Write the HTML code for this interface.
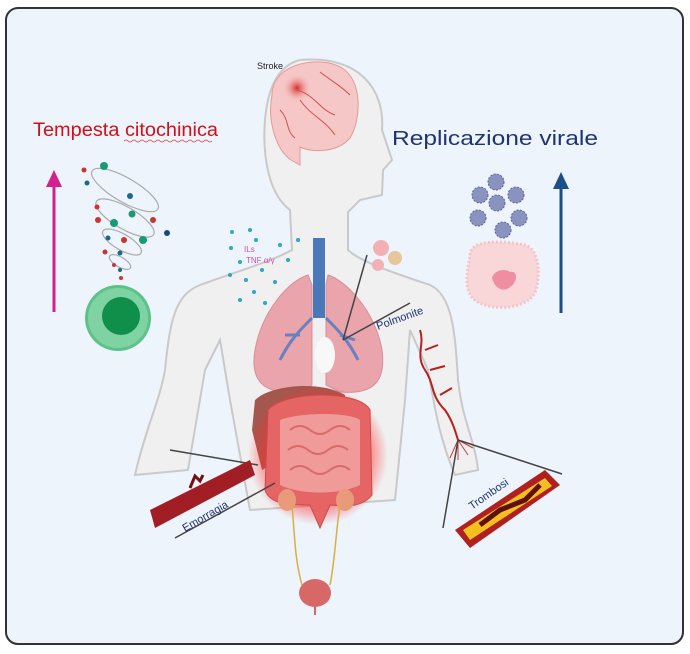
<!DOCTYPE html>
<html><head><meta charset="utf-8"><style>
html,body{margin:0;padding:0;background:#fff;}
svg{display:block;font-family:"Liberation Sans",sans-serif;}
</style></head><body>
<svg width="690" height="654" viewBox="0 0 690 654" xmlns="http://www.w3.org/2000/svg">
<defs>
<radialGradient id="glow" cx="50%" cy="50%" r="50%"><stop offset="0.7" stop-color="#ff3030" stop-opacity="0.6"/><stop offset="1" stop-color="#ff3030" stop-opacity="0"/></radialGradient>
<radialGradient id="stroke" cx="50%" cy="50%" r="50%"><stop offset="0" stop-color="#d92b2b"/><stop offset="1" stop-color="#f4b5b5" stop-opacity="0"/></radialGradient>
</defs>
<rect x="6" y="8" width="677" height="636" rx="12" fill="#edf4fb" stroke="#333" stroke-width="2"/>
<!-- body -->
<path d="M300,60 C360,55 385,90 382,130 L392,160 L383,170 L382,195 L360,200 L348,212 L348,250 C360,262 400,275 430,285 C452,295 455,330 458,380 C462,420 475,440 478,470 L455,475 C440,440 435,410 428,370 L410,330 L405,400 L395,500 L250,510 L230,400 L220,340 L205,370 C200,400 195,430 188,470 L135,475 C145,430 160,400 165,370 C170,320 175,295 200,285 C235,272 270,262 292,250 L290,210 C270,195 262,160 265,120 C268,85 280,65 300,60Z" fill="#f0f0f0" stroke="#c9c9c9" stroke-width="2"/>
<!-- brain -->
<path d="M272,95 C272,62 322,55 342,68 C362,80 362,118 350,138 C336,154 310,152 300,147 L300,165 L291,160 C276,150 267,120 272,95Z" fill="#f6c7c7" stroke="#e39a9a"/>
<circle cx="297" cy="88" r="14" fill="url(#stroke)"/>
<path d="M297,90 C315,95 320,110 335,115 M300,100 C310,115 325,120 335,135 M280,110 C290,120 285,130 295,138 M320,72 C330,80 340,85 350,95" stroke="#d05050" fill="none"/>
<text x="257" y="69" font-size="9" fill="#222">Stroke</text>
<!-- titles -->
<text x="33" y="136" font-size="19" fill="#d0101a" textLength="185" lengthAdjust="spacingAndGlyphs">Tempesta citochinica</text>
<path d="M124,141 q2,-2 4,0 t4,0 t4,0 t4,0 t4,0 t4,0 t4,0 t4,0 t4,0 t4,0 t4,0 t4,0 t4,0 t4,0 t4,0 t4,0 t4,0 t4,0 t4,0 t4,0 t4,0 t4,0" stroke="#e04040" stroke-width="0.8" fill="none"/>
<text x="392" y="145" font-size="20" fill="#1f3470" textLength="206" lengthAdjust="spacingAndGlyphs">Replicazione virale</text>
<!-- arrows -->
<line x1="54" y1="312" x2="54" y2="185" stroke="#d4208e" stroke-width="3"/>
<polygon points="46,187 62,187 54,170" fill="#d4208e"/>
<line x1="561" y1="313" x2="561" y2="187" stroke="#1c4e8a" stroke-width="3"/>
<polygon points="553,189 569,189 561,172" fill="#1c4e8a"/>
<!-- cytokine spiral -->
<g fill="none" stroke="#aaa" stroke-width="1.2">
<ellipse cx="125" cy="190" rx="38" ry="12" transform="rotate(30 125 190)"/>
<ellipse cx="125" cy="218" rx="33" ry="11" transform="rotate(30 125 218)"/>
<ellipse cx="122" cy="242" rx="22" ry="8" transform="rotate(30 122 242)"/>
<ellipse cx="120" cy="262" rx="12" ry="5" transform="rotate(30 120 262)"/>
</g>
<g>
<circle cx="104" cy="166" r="4" fill="#1a9a74"/><circle cx="84" cy="170" r="2.5" fill="#c33"/><circle cx="87" cy="183" r="2.5" fill="#1a6a8a"/>
<circle cx="130" cy="196" r="3" fill="#1a6a8a"/><circle cx="132" cy="214" r="3.5" fill="#1a9a74"/><circle cx="153" cy="220" r="3" fill="#c33"/>
<circle cx="97" cy="207" r="2.5" fill="#c33"/><circle cx="98" cy="220" r="3" fill="#c33"/><circle cx="114" cy="223" r="4" fill="#1a9a74"/>
<circle cx="143" cy="240" r="4" fill="#1a9a74"/><circle cx="124" cy="240" r="3" fill="#c33"/><circle cx="167" cy="233" r="3" fill="#1a4a7a"/>
<circle cx="108" cy="238" r="2.5" fill="#1a6a8a"/><circle cx="105" cy="252" r="2.5" fill="#c33"/><circle cx="120" cy="253" r="2.5" fill="#1a6a8a"/>
<circle cx="114" cy="265" r="2" fill="#c33"/><circle cx="120" cy="270" r="2" fill="#1a6a8a"/><circle cx="121" cy="278" r="2" fill="#c33"/>
</g>
<!-- green cell -->
<circle cx="118" cy="318" r="33" fill="#5cc28a"/>
<circle cx="118" cy="318" r="30" fill="#7fd3a2"/>
<circle cx="121" cy="316" r="19" fill="#0f8f4a"/>
<!-- viruses -->
<g fill="#8a93c0" stroke="#5a6298" stroke-dasharray="2 1.5">
<circle cx="496" cy="182" r="8"/><circle cx="480" cy="195" r="8"/><circle cx="516" cy="195" r="8"/><circle cx="497" cy="203" r="8"/><circle cx="478" cy="218" r="8"/><circle cx="519" cy="218" r="8"/><circle cx="503" cy="230" r="8"/>
</g>
<!-- pink cell -->
<path d="M470,255 C470,240 500,240 525,245 C540,250 540,275 536,290 C530,310 490,312 475,300 C462,290 468,270 470,255Z" fill="#f9d6d8" stroke="#f6c4c8" stroke-width="3" stroke-dasharray="2 2"/>
<path d="M492,278 C494,270 505,268 510,272 C518,270 518,282 510,287 C505,292 495,290 492,278Z" fill="#ee8ea0"/>
<!-- cytokine dots -->
<g fill="#2aa8c8">
<circle cx="232" cy="232" r="2"/><circle cx="250" cy="230" r="2"/><circle cx="256" cy="240" r="2"/><circle cx="231" cy="248" r="2"/><circle cx="280" cy="245" r="2"/><circle cx="288" cy="260" r="2"/><circle cx="240" cy="262" r="2"/><circle cx="262" cy="270" r="2"/><circle cx="246" cy="280" r="2"/><circle cx="275" cy="282" r="2"/><circle cx="254" cy="292" r="2"/><circle cx="240" cy="300" r="2"/><circle cx="265" cy="303" r="2"/><circle cx="298" cy="240" r="2"/><circle cx="230" cy="275" r="2"/>
</g>
<text x="244" y="252" font-size="8" fill="#d050b0">ILs</text>
<text x="246" y="263" font-size="8" fill="#d050b0">TNF α/γ</text>
<!-- lungs -->
<path d="M308,275 C290,280 262,310 255,350 C250,380 262,395 300,392 L312,385 L312,285Z" fill="#e9a4ac" stroke="#d88e98"/>
<path d="M328,275 C345,280 375,310 382,350 C386,380 375,395 340,392 L326,385 L326,285Z" fill="#e9a4ac" stroke="#d88e98"/>
<rect x="313" y="238" width="12" height="80" fill="#4a78b8"/>
<path d="M312,318 C300,330 290,340 280,360 M326,318 C338,330 348,340 358,360 M300,335 L285,335 M340,335 L355,340" stroke="#6a7fc0" stroke-width="3" fill="none"/>
<ellipse cx="325" cy="355" rx="10" ry="18" fill="#f8f8f8"/>
<!-- alveoli -->
<circle cx="381" cy="248" r="8" fill="#f3b1b6"/><circle cx="395" cy="258" r="7" fill="#e6c79a"/><circle cx="378" cy="265" r="6" fill="#f3b1b6"/>
<line x1="367" y1="255" x2="343" y2="340" stroke="#444" stroke-width="1.5"/>
<line x1="343" y1="340" x2="410" y2="303" stroke="#444" stroke-width="1.5"/>
<text x="378" y="330" font-size="11" fill="#1f3470" transform="rotate(-20 378 330)">Polmonite</text>
<!-- arm vessels -->
<path d="M420,330 C425,345 415,355 425,370 C435,385 430,395 445,410 C452,420 455,430 458,440 M425,350 L438,345 M430,370 L445,366 M440,395 L452,388" stroke="#b82020" stroke-width="2" fill="none"/>
<path d="M458,440 l-8,18 M458,440 l0,20 M458,440 l10,15 M458,440 l15,8" stroke="#c04040" fill="none"/>
<line x1="458" y1="440" x2="443" y2="528" stroke="#444" stroke-width="1.5"/>
<line x1="458" y1="440" x2="562" y2="474" stroke="#444" stroke-width="1.5"/>
<!-- liver / stomach -->
<path d="M255,400 C270,385 320,380 345,395 L345,420 L262,470 L252,430Z" fill="#a3574e"/>
<!-- intestines -->
<ellipse cx="318" cy="455" rx="70" ry="70" fill="url(#glow)"/>
<path d="M268,410 C285,390 360,390 370,410 L372,495 C360,510 340,505 330,505 L320,528 L310,505 C290,505 270,505 265,490Z" fill="#e56464" stroke="#d04848"/>
<path d="M280,420 C300,412 350,412 360,420 L360,485 C340,495 300,495 280,485Z" fill="#f09a9a"/>
<path d="M290,430 q10,-8 20,0 t20,0 t20,0 M288,450 q10,-8 20,0 t20,0 t20,0 M290,470 q10,-8 20,0 t20,0 t20,0" stroke="#d86a6a" stroke-width="2" fill="none"/>
<!-- kidneys / ureters / bladder -->
<ellipse cx="287" cy="500" rx="9" ry="11" fill="#e89a7a"/>
<ellipse cx="345" cy="500" rx="9" ry="11" fill="#e89a7a"/>
<path d="M292,505 C295,540 295,560 302,585 M340,505 C335,540 335,560 330,585" stroke="#d8b040" stroke-width="1.5" fill="none"/>
<ellipse cx="315" cy="593" rx="16" ry="14" fill="#d86868"/>
<line x1="315" y1="605" x2="315" y2="615" stroke="#d86868" stroke-width="2"/>
<!-- emorragia -->
<line x1="170" y1="450" x2="258" y2="465" stroke="#444" stroke-width="1.5"/>
<polygon points="150,510 250,460 255,475 155,528" fill="#a01e24"/>
<path d="M190,488 l5,-12 l5,5 l3,-6" stroke="#701010" stroke-width="3" fill="none"/>
<line x1="175" y1="538" x2="275" y2="483" stroke="#444" stroke-width="1.5"/>
<text x="185" y="532" font-size="11" fill="#1f3470" transform="rotate(-30 185 532)">Emorragia</text>
<!-- trombosi -->
<polygon points="455,530 545,470 560,485 470,548" fill="#b02020"/>
<polygon points="463,530 545,478 552,486 470,540" fill="#f3c020"/>
<path d="M480,525 l20,-15 l25,-10 l15,-15" stroke="#601010" stroke-width="5" fill="none"/>
<text x="472" y="510" font-size="11" fill="#1f3470" transform="rotate(-35 472 510)">Trombosi</text>
</svg>
</body></html>
